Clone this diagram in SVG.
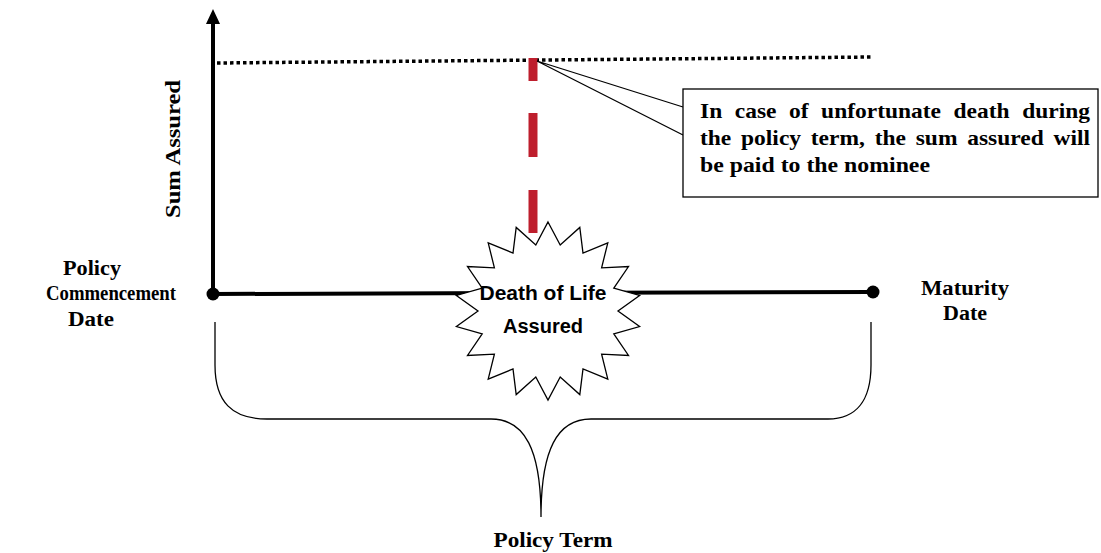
<svg xmlns="http://www.w3.org/2000/svg" width="1101" height="553" viewBox="0 0 1101 553">
<style>
.lbl{font-family:"Liberation Serif","Times New Roman",serif;font-weight:bold;font-size:20px;fill:#000}
.co{font-family:"Liberation Serif","Times New Roman",serif;font-weight:bold;font-size:21px;fill:#000}
.star{font-family:"Liberation Sans",Arial,sans-serif;font-weight:bold;font-size:20px;fill:#000}
.thin{fill:none;stroke:#000;stroke-width:1.3}
.axis{fill:none;stroke:#000;stroke-width:4}
.red{stroke:#BE1E2D;stroke-width:9}
</style>
<rect width="1101" height="553" fill="#fff"/>
<g id="connectors">
  <line class="axis" x1="213" y1="294" x2="213" y2="22"/>
  <polygon points="213,9 206,24 220,24" fill="#000"/>
  <line class="axis" x1="213" y1="294" x2="873" y2="292"/>
  <line x1="217" y1="63" x2="873" y2="57" stroke="#000" stroke-width="3.5" stroke-dasharray="3.5 3"/>
  <line class="red" x1="533" y1="58" x2="533" y2="81"/>
  <line class="red" x1="533" y1="113" x2="533" y2="157"/>
  <line class="red" x1="533" y1="190" x2="533" y2="233"/>
  <path class="thin" d="M537,61 L683,107 M537,61 L683,135"/>
  <path class="thin" d="M215,322 L215,365 C215,402 232,419 267,419 L491,419 C525,419 541,450 541,517 C541,450 557,419 591,419 L828,419 C855,419 871,402 871,365 L871,322"/>
</g>
<g id="commencement">
  <circle cx="213" cy="294" r="6.5" fill="#000"/>
  <text class="lbl" x="92" y="275" text-anchor="middle" textLength="58" lengthAdjust="spacingAndGlyphs">Policy</text>
  <text class="lbl" x="111" y="300" text-anchor="middle" textLength="130" lengthAdjust="spacingAndGlyphs">Commencement</text>
  <text class="lbl" x="91" y="326" text-anchor="middle" textLength="46" lengthAdjust="spacingAndGlyphs">Date</text>
</g>
<g id="maturity">
  <circle cx="873" cy="292" r="6.5" fill="#000"/>
  <text class="lbl" x="965" y="295" text-anchor="middle" textLength="88" lengthAdjust="spacingAndGlyphs">Maturity</text>
  <text class="lbl" x="965" y="320" text-anchor="middle" textLength="44" lengthAdjust="spacingAndGlyphs">Date</text>
</g>
<g id="sum-assured">
  <text class="lbl" transform="translate(180,149) rotate(-90)" x="0" y="0" text-anchor="middle" textLength="138" lengthAdjust="spacingAndGlyphs">Sum Assured</text>
</g>
<g id="death">
  <polygon fill="#fff" stroke="#000" stroke-width="1.3" points="548,222 560.2,245 579.8,227.4 583,253 607.8,242.8 601.6,267.9 628.5,266.5 613.8,288.1 639.6,295.5 618,311 639.6,326.5 613.8,333.9 628.5,355.5 601.6,354.1 607.8,379.2 583,369 579.8,394.6 560.2,377 548,400 535.8,377 516.2,394.6 513,369 488.2,379.2 494.4,354.1 467.5,355.5 482.2,333.9 456.4,326.5 478,311 456.4,295.5 482.2,288.1 467.5,266.5 494.4,267.9 488.2,242.8 513,253 516.2,227.4 535.8,245"/>
  <text class="star" x="543" y="300" text-anchor="middle" textLength="127" lengthAdjust="spacingAndGlyphs">Death of Life</text>
  <text class="star" x="543" y="333" text-anchor="middle">Assured</text>
</g>
<g id="callout">
  <rect x="683" y="89" width="415" height="108" fill="#fff" stroke="#000" stroke-width="1.3"/>
  <text class="co" x="700" y="118" word-spacing="6" textLength="390" lengthAdjust="spacingAndGlyphs">In case of unfortunate death during</text>
  <text class="co" x="700" y="145" word-spacing="3.5" textLength="390" lengthAdjust="spacingAndGlyphs">the policy term, the sum assured will</text>
  <text class="co" x="700" y="172" textLength="230" lengthAdjust="spacingAndGlyphs">be paid to the nominee</text>
</g>
<g id="policy-term">
  <text class="lbl" x="553" y="547" text-anchor="middle" textLength="119" lengthAdjust="spacingAndGlyphs">Policy Term</text>
</g>
</svg>
